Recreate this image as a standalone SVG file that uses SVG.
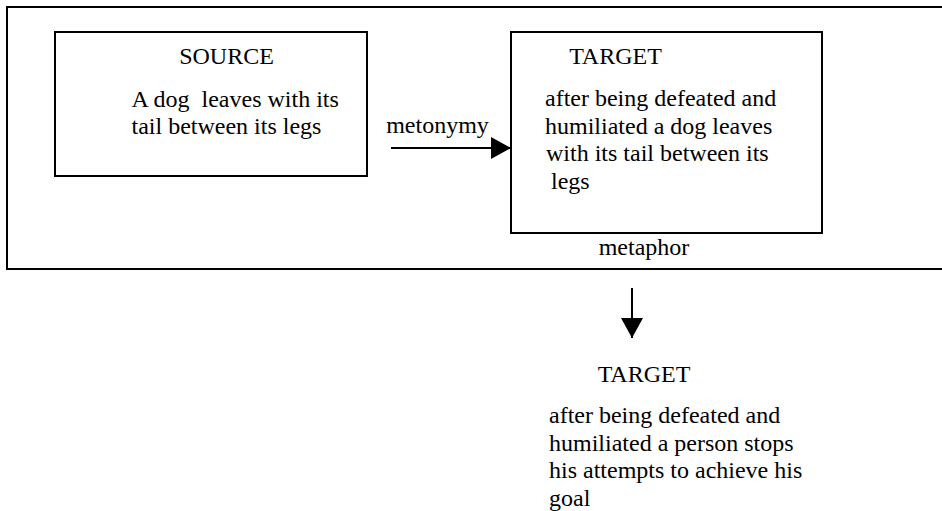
<svg xmlns="http://www.w3.org/2000/svg" width="942" height="511" viewBox="0 0 942 511">
  <style>
    .box { fill: #fff; stroke: #000; stroke-width: 2; }
    .t { font-family: "Liberation Serif", "Times New Roman", serif; font-size: 24px; fill: #000; }
    .c { text-anchor: middle; }
    .conn { stroke: #000; stroke-width: 2; fill: none; }
  </style>
  <defs>
    <marker id="arrow" markerUnits="userSpaceOnUse" viewBox="0 0 20 22" markerWidth="20" markerHeight="22" refX="20" refY="11" orient="auto">
      <path d="M0,0 L20,11 L0,22 Z" fill="#000"/>
    </marker>
  </defs>
  <rect width="942" height="511" fill="#fff"/>

  <g id="metaphor-frame">
    <rect class="box" x="7" y="7" width="940" height="262"/>
    <text class="t c" x="644" y="255">metaphor</text>
  </g>

  <g id="source">
    <rect class="box" x="55" y="32" width="312" height="144"/>
    <text class="t c" x="226.5" y="64">SOURCE</text>
    <text class="t" x="131.5" y="107" xml:space="preserve">A dog  leaves with its</text>
    <text class="t" x="131.5" y="134">tail between its legs</text>
  </g>

  <g id="target">
    <rect class="box" x="511" y="32" width="311" height="201"/>
    <text class="t c" x="615.5" y="64">TARGET</text>
    <text class="t" x="545" y="106">after being defeated and</text>
    <text class="t" x="545" y="133.5">humiliated a dog leaves</text>
    <text class="t" x="546" y="161">with its tail between its</text>
    <text class="t" x="545" y="188.5" xml:space="preserve"> legs</text>
  </g>

  <g id="target-2">
    <text class="t c" x="644" y="382">TARGET</text>
    <text class="t" x="549" y="423">after being defeated and</text>
    <text class="t" x="549" y="450.5">humiliated a person stops</text>
    <text class="t" x="549" y="478">his attempts to achieve his</text>
    <text class="t" x="549" y="505.5">goal</text>
  </g>

  <g id="connectors">
    <line class="conn" x1="391" y1="148" x2="511" y2="148" marker-end="url(#arrow)"/>
    <text class="t c" x="437.5" y="133">metonymy</text>
    <line class="conn" x1="632" y1="288" x2="632" y2="338" marker-end="url(#arrow)"/>
  </g>
</svg>
